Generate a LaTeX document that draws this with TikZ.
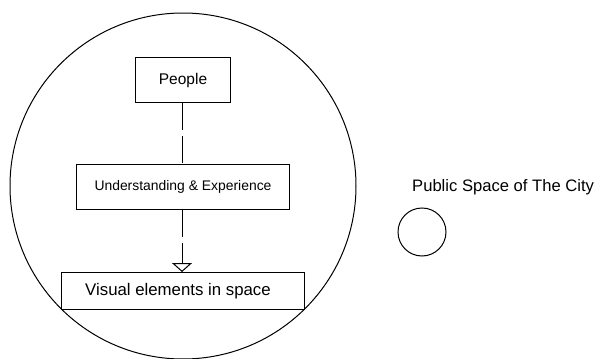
\documentclass[tikz,border=0pt]{standalone}
\usepackage{fontspec}
\setmainfont{Liberation Sans}
\usetikzlibrary{arrows.meta}
\begin{document}
\begin{tikzpicture}[x=1pt,y=-1pt,
  box/.style={draw,line width=1pt,inner sep=0pt,anchor=north west},
  conn/.style={line width=1pt,dash pattern=on 27pt off 6pt},
  ring/.style={draw,line width=1pt,circle,inner sep=0pt}]
\useasboundingbox (0,0) rectangle (598,359);
\node[ring,minimum size=346pt] (big) at (183,186) {};
\node[box,minimum width=95pt,minimum height=45pt] (people) at (135,57) {};
\node[font=\fontsize{15.5}{17}\selectfont] at (people.center) {People};
\node[box,minimum width=213pt,minimum height=45pt] (under) at (76,164) {};
\node[font=\fontsize{13.9}{16}\selectfont] at (under.center) {Understanding \& Experience};
\node[box,minimum width=243pt,minimum height=37pt] (visual) at (61,272) {};
\node[font=\fontsize{16.8}{19}\selectfont] at ([xshift=-5pt]visual.center) {Visual elements in space};
\draw[conn] (people.south -| 182,0) -- (under.north -| 182,0);
\draw[conn,-{Triangle[open,width=20pt,length=9pt]}] (under.south -| 182,0) -- (visual.north -| 182,0);
\node[ring,minimum size=48pt] (small) at (422,232) {};
\node[font=\fontsize{16.6}{19}\selectfont,anchor=west,inner sep=0pt] (label) at (412,187) {Public Space of The City};
\end{tikzpicture}
\end{document}
